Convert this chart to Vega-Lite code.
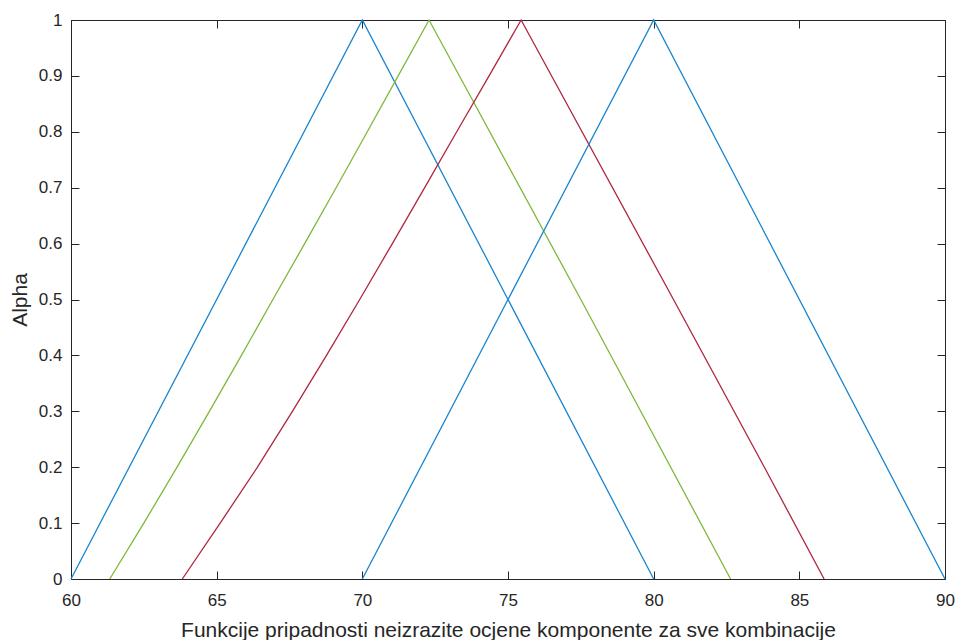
{
  "$schema": "https://vega.github.io/schema/vega-lite/v6.json",
  "autosize": {"type": "none"},
  "padding": {"left": 71, "top": 20, "right": 12, "bottom": 61},
  "width": 874,
  "height": 559,
  "background": "white",
  "config": {
    "view": {"stroke": null},
    "font": "Liberation Sans",
    "axis": {
      "grid": false,
      "domainColor": "#262626",
      "domainWidth": 1,
      "tickColor": "#262626",
      "tickWidth": 1,
      "tickSize": -8,
      "labelColor": "#262626",
      "labelFont": "Liberation Sans",
      "labelFontSize": 17,
      "labelFlush": false,
      "labelOverlap": false,
      "titleColor": "#262626",
      "titleFont": "Liberation Sans",
      "titleFontSize": 21,
      "titleFontWeight": "normal"
    }
  },
  "data": {
    "values": [
      {"series": "A", "x": 60, "alpha": 0},
      {"series": "A", "x": 70, "alpha": 1},
      {"series": "A", "x": 80, "alpha": 0},
      {"series": "B", "x": 61.33, "alpha": 0},
      {"series": "B", "x": 62.5, "alpha": 0.1},
      {"series": "B", "x": 63.64, "alpha": 0.2},
      {"series": "B", "x": 64.75, "alpha": 0.3},
      {"series": "B", "x": 65.85, "alpha": 0.4},
      {"series": "B", "x": 66.93, "alpha": 0.5},
      {"series": "B", "x": 68.02, "alpha": 0.6},
      {"series": "B", "x": 69.1, "alpha": 0.7},
      {"series": "B", "x": 70.17, "alpha": 0.8},
      {"series": "B", "x": 71.23, "alpha": 0.9},
      {"series": "B", "x": 72.29, "alpha": 1},
      {"series": "B", "x": 77.5, "alpha": 0.5},
      {"series": "B", "x": 82.64, "alpha": 0},
      {"series": "C", "x": 63.82, "alpha": 0},
      {"series": "C", "x": 65.12, "alpha": 0.1},
      {"series": "C", "x": 66.4, "alpha": 0.2},
      {"series": "C", "x": 67.6, "alpha": 0.3},
      {"series": "C", "x": 68.77, "alpha": 0.4},
      {"series": "C", "x": 69.91, "alpha": 0.5},
      {"series": "C", "x": 71.03, "alpha": 0.6},
      {"series": "C", "x": 72.14, "alpha": 0.7},
      {"series": "C", "x": 73.24, "alpha": 0.8},
      {"series": "C", "x": 74.35, "alpha": 0.9},
      {"series": "C", "x": 75.45, "alpha": 1},
      {"series": "C", "x": 80.68, "alpha": 0.5},
      {"series": "C", "x": 83.8, "alpha": 0.2},
      {"series": "C", "x": 85.85, "alpha": 0},
      {"series": "D", "x": 70, "alpha": 0},
      {"series": "D", "x": 80, "alpha": 1},
      {"series": "D", "x": 90, "alpha": 0}
    ]
  },
  "layer": [
    {
      "mark": {"type": "line", "strokeWidth": 1.3, "clip": false},
      "encoding": {
        "x": {
          "field": "x", "type": "quantitative",
          "scale": {"domain": [60, 90], "nice": false, "zero": false},
          "axis": {
            "orient": "bottom",
            "values": [60, 65, 70, 75, 80, 85, 90],
            "format": "d",
            "labelPadding": 21,
            "title": "Funkcije pripadnosti neizrazite ocjene komponente za sve kombinacije",
            "titleY": 57,
            "titleBaseline": "alphabetic"
          }
        },
        "y": {
          "field": "alpha", "type": "quantitative",
          "scale": {"domain": [0, 1], "nice": false, "zero": false},
          "axis": {
            "orient": "left",
            "values": [0, 0.1, 0.2, 0.3, 0.4, 0.5, 0.6, 0.7, 0.8, 0.9, 1],
            "format": ".1~f",
            "labelPadding": 17,
            "title": "Alpha",
            "titleX": -45,
            "titleBaseline": "alphabetic"
          }
        },
        "color": {
          "field": "series", "type": "nominal", "legend": null,
          "scale": {"domain": ["A", "B", "C", "D"], "range": ["#1a86cf", "#7fb83c", "#b0263f", "#1a86cf"]}
        },
        "order": {"field": "x", "type": "quantitative", "sort": "ascending"},
        "detail": {"field": "series"}
      }
    },
    {
      "mark": {"type": "point", "opacity": 0},
      "encoding": {
        "x": {
          "field": "x", "type": "quantitative",
          "axis": {"orient": "top", "values": [60, 65, 70, 75, 80, 85, 90], "labels": false, "title": null}
        },
        "y": {
          "field": "alpha", "type": "quantitative",
          "axis": {"orient": "right", "values": [0, 0.1, 0.2, 0.3, 0.4, 0.5, 0.6, 0.7, 0.8, 0.9, 1], "labels": false, "title": null}
        }
      }
    }
  ]
}
